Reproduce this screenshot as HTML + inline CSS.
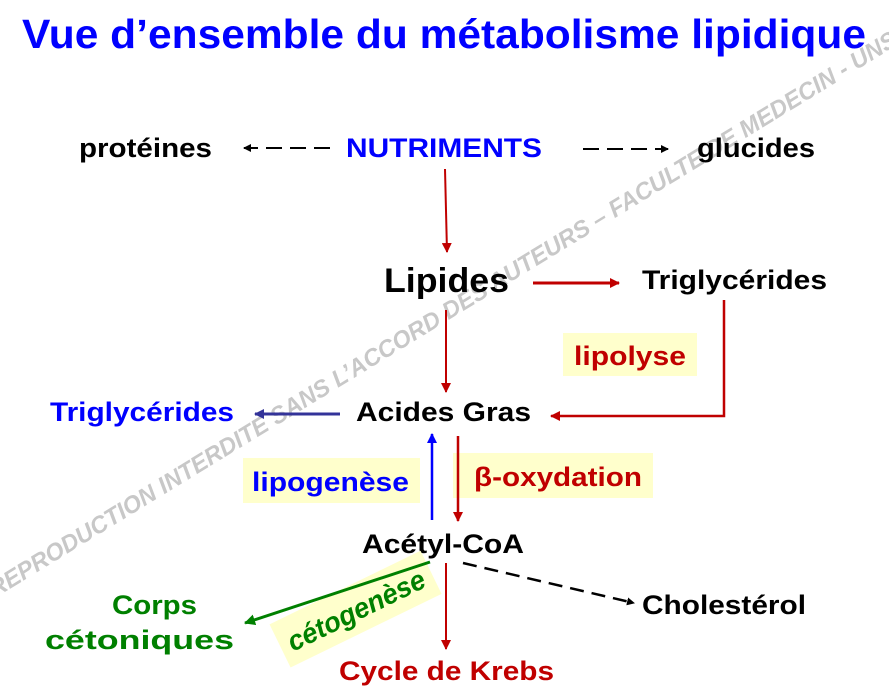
<!DOCTYPE html>
<html><head><meta charset="utf-8"><style>
html,body{margin:0;padding:0;background:#fff;}
svg{display:block;font-family:"Liberation Sans",Arial,sans-serif;font-weight:bold;}
</style></head><body>
<svg width="889" height="692" viewBox="0 0 889 692" xmlns="http://www.w3.org/2000/svg">
<defs>
<marker id="ar" markerWidth="10" markerHeight="10" refX="9" refY="5" orient="auto" markerUnits="userSpaceOnUse"><path d="M0,0 L10,5 L0,10 z" fill="#c00000"/></marker>
<marker id="ab" markerWidth="8" markerHeight="8" refX="7" refY="4" orient="auto" markerUnits="userSpaceOnUse"><path d="M0,0 L8,4 L0,8 z" fill="#000"/></marker>
<marker id="abl" markerWidth="10" markerHeight="10" refX="9" refY="5" orient="auto" markerUnits="userSpaceOnUse"><path d="M0,0 L10,5 L0,10 z" fill="#0000ff"/></marker>
<marker id="an" markerWidth="10" markerHeight="10" refX="9" refY="5" orient="auto" markerUnits="userSpaceOnUse"><path d="M0,0 L10,5 L0,10 z" fill="#333399"/></marker>
<marker id="ag" markerWidth="11" markerHeight="11" refX="10" refY="5.5" orient="auto" markerUnits="userSpaceOnUse"><path d="M0,0 L11,5.5 L0,11 z" fill="#008000"/></marker>
</defs>
<text x="0" y="0" transform="translate(-5,598) rotate(-31.5)" font-size="24" font-style="italic" fill="#c8c8c8" textLength="1060" lengthAdjust="spacingAndGlyphs">REPRODUCTION INTERDITE SANS L’ACCORD DES AUTEURS – FACULTE DE MEDECIN - UNS</text>

<text x="22" y="48" font-size="41" fill="#0000ff" textLength="844" lengthAdjust="spacingAndGlyphs">Vue d’ensemble du métabolisme lipidique</text>

<text x="79" y="157" font-size="27" fill="#000" textLength="133" lengthAdjust="spacingAndGlyphs">protéines</text>
<text x="346" y="157" font-size="27" fill="#0000ff" textLength="196" lengthAdjust="spacingAndGlyphs">NUTRIMENTS</text>
<text x="697" y="157" font-size="27" fill="#000" textLength="118" lengthAdjust="spacingAndGlyphs">glucides</text>
<line x1="330" y1="148" x2="244" y2="148" stroke="#000" stroke-width="2" stroke-dasharray="16,8" marker-end="url(#ab)"/>
<line x1="583" y1="149" x2="668" y2="149" stroke="#000" stroke-width="2" stroke-dasharray="16,8" marker-end="url(#ab)"/>
<line x1="445" y1="169" x2="447" y2="252" stroke="#c00000" stroke-width="2" marker-end="url(#ar)"/>

<text x="384" y="292" font-size="34" fill="#000" textLength="125" lengthAdjust="spacingAndGlyphs">Lipides</text>
<line x1="533" y1="283" x2="619" y2="283" stroke="#c00000" stroke-width="3" marker-end="url(#ar)"/>
<text x="642" y="289" font-size="27" fill="#000" textLength="185" lengthAdjust="spacingAndGlyphs">Triglycérides</text>
<line x1="446" y1="310" x2="446" y2="392" stroke="#c00000" stroke-width="2" marker-end="url(#ar)"/>

<rect x="563" y="333" width="134" height="43" fill="#ffffcc"/>
<text x="574" y="365" font-size="27" fill="#c00000" textLength="112" lengthAdjust="spacingAndGlyphs">lipolyse</text>
<polyline points="724,300 724,416 551,416" fill="none" stroke="#c00000" stroke-width="2.5" marker-end="url(#ar)"/>

<text x="50" y="421" font-size="27" fill="#0000ff" textLength="184" lengthAdjust="spacingAndGlyphs">Triglycérides</text>
<line x1="340" y1="414" x2="255" y2="414" stroke="#333399" stroke-width="3" marker-end="url(#an)"/>
<text x="356" y="421" font-size="27" fill="#000" textLength="175" lengthAdjust="spacingAndGlyphs">Acides Gras</text>

<rect x="243" y="458" width="177" height="45" fill="#ffffcc"/>
<text x="252" y="491" font-size="27" fill="#0000ff" textLength="157" lengthAdjust="spacingAndGlyphs">lipogenèse</text>
<line x1="432" y1="520" x2="432" y2="434" stroke="#0000ff" stroke-width="2.5" marker-end="url(#abl)"/>
<rect x="453" y="453" width="200" height="45" fill="#ffffcc"/>
<text x="474" y="486" font-size="27" fill="#c00000" textLength="168" lengthAdjust="spacingAndGlyphs">β-oxydation</text>
<line x1="458" y1="436" x2="458" y2="521" stroke="#c00000" stroke-width="2.5" marker-end="url(#ar)"/>

<text x="362" y="553" font-size="27" fill="#000" textLength="162" lengthAdjust="spacingAndGlyphs">Acétyl-CoA</text>

<g transform="translate(356,610) rotate(-26)">
<rect x="-84" y="-25" width="168" height="48" fill="#ffffcc"/>
<text x="0" y="10" font-size="28" font-style="italic" fill="#008000" text-anchor="middle" textLength="150" lengthAdjust="spacingAndGlyphs">cétogenèse</text>
</g>
<line x1="430" y1="562" x2="245" y2="623" stroke="#008000" stroke-width="3" marker-end="url(#ag)"/>
<line x1="446" y1="563" x2="446" y2="649" stroke="#c00000" stroke-width="2" marker-end="url(#ar)"/>
<line x1="463" y1="563" x2="634" y2="603" stroke="#000" stroke-width="2.5" stroke-dasharray="14,8" marker-end="url(#ab)"/>

<text x="642" y="614" font-size="27" fill="#000" textLength="164" lengthAdjust="spacingAndGlyphs">Cholestérol</text>
<text x="112" y="614" font-size="27" fill="#008000" textLength="85" lengthAdjust="spacingAndGlyphs">Corps</text>
<text x="45" y="649" font-size="27" fill="#008000" textLength="189" lengthAdjust="spacingAndGlyphs">cétoniques</text>
<text x="339" y="680" font-size="27" fill="#c00000" textLength="215" lengthAdjust="spacingAndGlyphs">Cycle de Krebs</text>
</svg>
</body></html>
